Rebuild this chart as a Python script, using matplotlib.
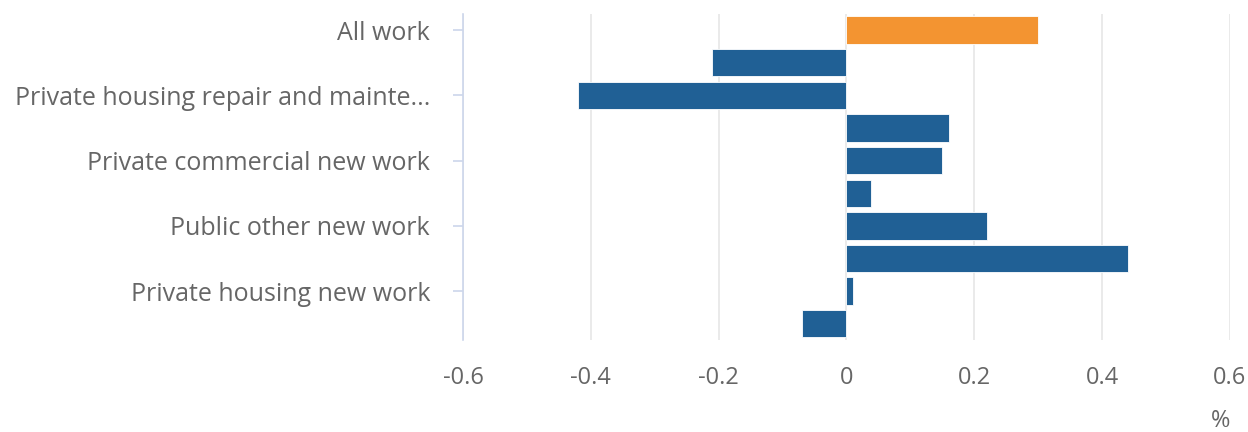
import matplotlib.pyplot as plt

categories = [
    'All work',
    'Non-housing repair and maintenance',
    'Private housing repair and mainte...',
    'Private industrial new work',
    'Private commercial new work',
    'Infrastructure new work',
    'Public other new work',
    'Public housing new work',
    'Private housing new work',
    'Public housing repair and maintenance',
]
values = [0.30, -0.21, -0.42, 0.16, 0.15, 0.038, 0.22, 0.44, 0.01, -0.07]
colors = ['#f39431'] + ['#206095'] * 9
x_ticks = [-0.6, -0.4, -0.2, 0, 0.2, 0.4, 0.6]
x_labels = ['-0.6', '-0.4', '-0.2', '0', '0.2', '0.4', '0.6']

plt.rcParams['font.family'] = ['Open Sans', 'DejaVu Sans']
text_col = '#666666'

fig = plt.figure(figsize=(12.48, 4.32), dpi=100)
ax = fig.add_axes([0.371, 0.213, 0.6145, 0.755])

pos = list(range(len(categories)))
ax.barh(pos, values, height=0.84, color=colors, edgecolor='white', linewidth=0.6, zorder=3)

ax.set_ylim(len(categories) - 0.5, -0.5)
ax.set_xlim(-0.6, 0.6)

ax.set_xticks(x_ticks)
ax.set_xticklabels(x_labels, fontsize=17, color=text_col)
ax.grid(axis='x', color='#e6e6e6', linewidth=1.2, zorder=0)

ax.set_yticks(pos[::2])
ax.set_yticklabels(categories[::2], fontsize=18, color=text_col)

ax.tick_params(axis='x', length=0, pad=19)
ax.tick_params(axis='y', length=7.2, color='#ccd6eb', width=1.2, pad=16.5)

for s in ['top', 'right', 'bottom']:
    ax.spines[s].set_visible(False)
ax.spines['left'].set_color('#ccd6eb')
ax.spines['left'].set_linewidth(1.2)

fig.text(0.978, 0.025, '%', fontsize=17, color=text_col, ha='center', va='center')

fig.savefig('out.png', dpi=100)
